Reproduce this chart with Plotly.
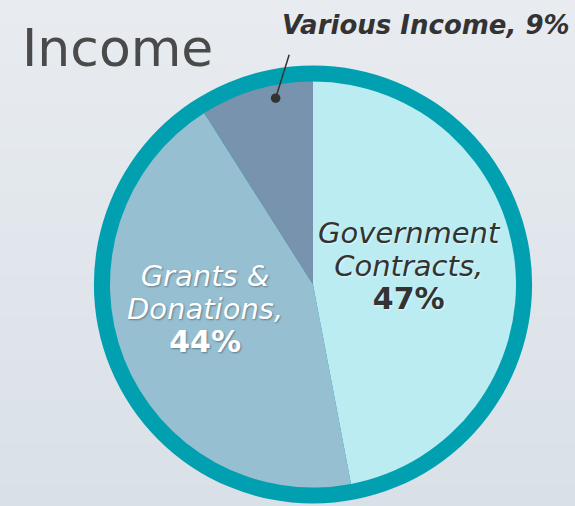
import math
import plotly.graph_objects as go

# ---- data ----
categories = ["Government Contracts", "Grants & Donations", "Various Income"]
shares = [47, 44, 9]
label_lines = ["Government<br>Contracts,", "Grants &<br>Donations,", "Various Income,"]
slice_colors = ["#bbecf1", "#96bfd1", "#7893ad"]
text_colors = ["#333333", "#ffffff", "#333333"]
title_text = "Income"

# ---- geometry / style ----
W, H = 575, 506
CX, CY = 313, 284.5
R_OUT, R_IN = 219, 203
FONT = "DejaVu Sans"
RING = "#00a0b1"
# label centres (pixels) for the in-slice labels
LABEL_POS = [(409, 266), (205, 309)]
LABEL_SHADOW = ["1px 1px 2px rgba(255,255,255,0.6)", "1px 1px 2px rgba(0,0,0,0.35)"]


def dom(r):
    return dict(x=[(CX - r) / W, (CX + r) / W], y=[1 - (CY + r) / H, 1 - (CY - r) / H])


fig = go.Figure()

# subtle vertical gradient background
fig.add_trace(go.Heatmap(x=[0, 1], y=[0, 1], z=[[0, 0], [1, 1]], zsmooth="best",
                         colorscale=[[0, "#d9e0e7"], [1, "#e8ecf0"]], showscale=False,
                         hoverinfo="skip"))

# teal ring (drawn as a larger pie behind)
fig.add_trace(go.Pie(values=[1], marker=dict(colors=[RING], line=dict(width=0)),
                     domain=dom(R_OUT), textinfo="none", hoverinfo="skip",
                     sort=False, showlegend=False))

fig.add_trace(go.Pie(
    labels=categories, values=shares, sort=False, direction="clockwise", rotation=0,
    marker=dict(colors=slice_colors, line=dict(width=0)),
    domain=dom(R_IN), textinfo="none",
    hoverinfo="skip", showlegend=False,
))

total = sum(shares)
# in-slice labels
for i in range(2):
    px, py = LABEL_POS[i]
    pct = round(100 * shares[i] / total)
    txt = (f"<span style='font-size:29px'><i>{label_lines[i].replace('<br>', '</i></span><br><span style=\"font-size:29px\"><i>')}</i></span>"
           f"<br><span style='font-size:30px'><b>{pct}%</b></span>")
    fig.add_annotation(x=px / W, y=1 - py / H, xref="paper", yref="paper",
                       xanchor="center", yanchor="middle", showarrow=False, align="center",
                       text=txt,
                       font=dict(family=FONT, size=25.5, color=text_colors[i],
                                 shadow=LABEL_SHADOW[i]))

# callout for the small slice
frac = (shares[0] + shares[1] + 0.65 * shares[2]) / total
theta = 2 * math.pi * frac
rdot = 190
dot_x = CX + rdot * math.sin(theta)
dot_y = CY - rdot * math.cos(theta)
fig.add_annotation(x=dot_x / W, y=1 - dot_y / H, xref="paper", yref="paper",
                   text="", showarrow=True, arrowhead=6, arrowsize=1.6, arrowwidth=1.5,
                   arrowcolor="#333333", ax=14, ay=-45)
fig.add_annotation(x=572 / W, y=1 - 25 / H, xref="paper", yref="paper",
                   xanchor="right", yanchor="middle", showarrow=False,
                   text=f"<b><i>{label_lines[2]} {shares[2]}%</i></b>",
                   font=dict(family=FONT, size=26, color="#333333"))

fig.add_annotation(x=20 / W, y=1 - 48 / H, xref="paper", yref="paper",
                   xanchor="left", yanchor="middle", showarrow=False,
                   text=title_text, font=dict(family=FONT, size=52, color="#4a4a4a"))

fig.update_layout(
    width=W, height=H, margin=dict(l=0, r=0, t=0, b=0),
    paper_bgcolor="#e2e7ec", plot_bgcolor="#e2e7ec",
    xaxis=dict(visible=False, range=[0, 1], domain=[0, 1], fixedrange=True),
    yaxis=dict(visible=False, range=[0, 1], domain=[0, 1], fixedrange=True),
    showlegend=False,
)

fig.write_html("out.html", config={"displayModeBar": False},
               post_script="document.body.style.margin='0px';document.body.style.overflow='hidden';")
